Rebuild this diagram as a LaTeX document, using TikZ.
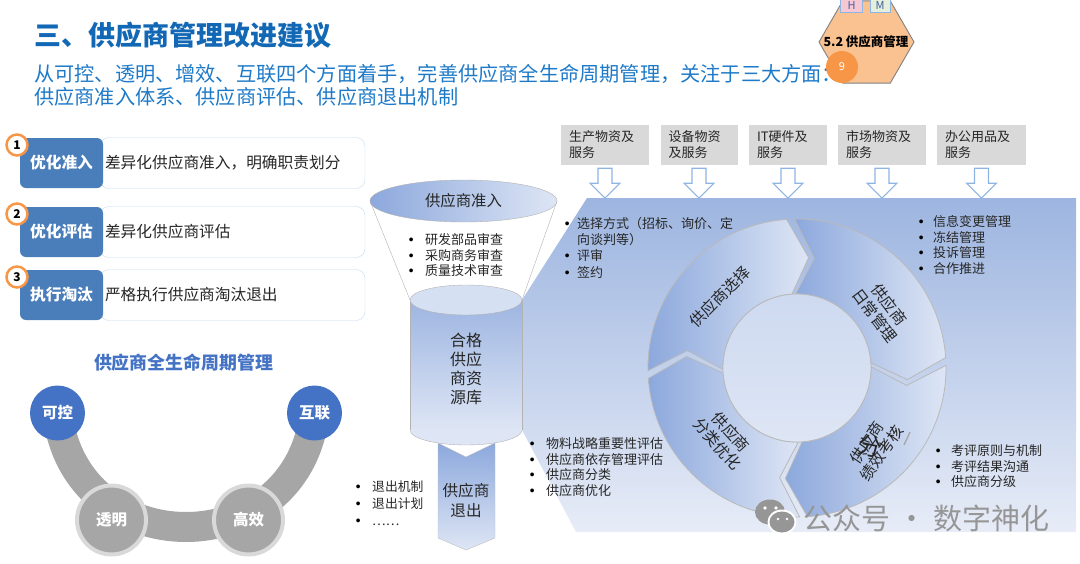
\documentclass[tikz,border=0pt]{standalone}
\usepackage{fontspec}
\setmainfont{Noto Sans CJK SC}
\usepackage{tikz}
\usetikzlibrary{positioning}
\usetikzlibrary{shapes.geometric}
\usetikzlibrary{calc}

\definecolor{titleblue}{RGB}{18,104,180}
\definecolor{subblue}{RGB}{30,122,200}
\definecolor{headblue}{RGB}{74,126,187}
\definecolor{numorange}{RGB}{247,150,70}
\definecolor{edgeblue}{RGB}{198,217,241}
\definecolor{lifeblue}{RGB}{68,114,196}
\definecolor{bandgray}{RGB}{166,166,166}
\definecolor{ringgray}{RGB}{217,217,217}
\definecolor{segdark}{RGB}{140,168,220}
\definecolor{seglight}{RGB}{222,230,245}
\definecolor{paneltop}{RGB}{157,181,224}
\definecolor{panelbot}{RGB}{231,236,247}
\definecolor{catgray}{RGB}{217,217,217}
\definecolor{arrowedge}{RGB}{141,180,226}
\definecolor{hexfill}{RGB}{250,193,145}
\definecolor{hpink}{RGB}{245,200,212}
\definecolor{mgreen}{RGB}{228,239,220}
\definecolor{markblue}{RGB}{70,95,160}
\definecolor{markgray}{RGB}{150,150,150}
\definecolor{txtdark}{RGB}{38,38,38}

\newcommand{\fs}[2]{\fontsize{#1}{#2}\selectfont}
\newcommand{\dotitem}[1]{\makebox[#1][l]{\raisebox{2.6pt}{\color{black}\fs{4.2}{5}●}}}

\tikzset{
  headbox/.style={fill=headblue, rounded corners=6pt, minimum width=83pt, minimum height=50pt,
    text=white, font=\fs{15.7}{18}\bfseries},
  bodybox/.style={draw=edgeblue, fill=white, rounded corners=9pt, minimum width=265pt,
    minimum height=51pt, text width=255pt, align=left, font=\fs{15.7}{18}},
  numcirc/.style={circle, draw=numorange, line width=2.5pt, fill=white, minimum size=21pt,
    text=black, font=\fs{12}{12}\bfseries},
  lifekey/.style={circle, fill=lifeblue, minimum size=55pt, text=white, font=\fs{15.5}{16}\bfseries},
  lifemid/.style={circle, fill=bandgray, draw=ringgray, line width=4pt, minimum size=69pt,
    text=white, font=\fs{15.5}{16}\bfseries},
  catbox/.style={fill=catgray, minimum height=40pt, align=left, font=\fs{13}{16}},
  flowarrow/.style={draw=arrowedge, fill=white, line width=1.1pt},
  segment/.style={left color=segdark, right color=seglight, draw=gray!55, line width=0.8pt},
  seglabel/.style={align=center, font=\fs{15.6}{18}},
  item/.style={anchor=base west, font=\fs{13}{15}},
}

\begin{document}
\begin{tikzpicture}[x=1pt,y=-1pt, every node/.style={inner sep=0pt, text=txtdark}]
\useasboundingbox (0,0) rectangle (1080,563);

% title
\node[anchor=base west, font=\fs{27}{30}\bfseries, text=titleblue] (title) at (34,45) {三、供应商管理改进建议};
\node[anchor=base west, font=\fs{20.2}{23}, text=subblue] (sub1) at (34,81.5)
  {从可控、透明、增效、互联四个方面着手，完善供应商全生命周期管理，关注于三大方面：};
\node[anchor=base west, font=\fs{20.2}{23}, text=subblue] (sub2) at (34,104.5)
  {供应商准入体系、供应商评估、供应商退出机制};

% badge
\node[regular polygon, regular polygon sides=6, minimum size=95pt, fill=hexfill, draw=gray, line width=0.9pt] (badge) at (866.5,42) {};
\node[draw=arrowedge, fill=hpink, minimum width=22pt, minimum height=14pt, text=markblue, font=\fs{11}{11}] (hmark) at (851.5,5) {H};
\node[draw=arrowedge, fill=mgreen, minimum width=20pt, minimum height=14pt, text=markblue, font=\fs{11}{11}] (mmark) at (880,5) {M};
\node[font=\fs{12.5}{13}\bfseries, text=black] (badgetext) at (866,42) {5.2 供应商管理};
\node[circle, fill=numorange, minimum size=32pt, text=white, font=\fs{11}{11}] (badgenum) at (842,67) {9};

% three measures
\foreach \head/\body/\yy [count=\k] in {优化准入/差异化供应商准入，明确职责划分/163, 优化评估/差异化供应商评估/232, 执行淘汰/严格执行供应商淘汰退出/295} {
  \node[bodybox] (body\k) at (232.5,\yy) {\body};
  \node[headbox] (head\k) at (61.5,\yy) {\head};
  \node[numcirc] (num\k) at (17,\yy-18) {\k};
}

% life cycle
\node[font=\fs{17.9}{20}\bfseries, text=lifeblue] (lifetitle) at (183.5,363) {供应商全生命周期管理};
\coordinate (kk) at (57.5,413);
\coordinate (hl) at (314.5,413);
\draw[bandgray, line width=30pt] (kk) .. controls (75,565) and (297,565) .. (hl);
\node[lifekey] (kekong) at (kk) {可控};
\node[lifekey] (hulian) at (hl) {互联};
\node[lifemid] (touming) at (111.5,520) {透明};
\node[lifemid] (gaoxiao) at (248.5,520) {高效};

% panel
\shade[top color=paneltop, bottom color=panelbot] (587,198) -- (1076,198) -- (1076,532) -- (576,532) -- (522,430) -- (522,300) -- cycle;

% categories
\foreach \cx/\w/\txt [count=\k, evaluate=\w as \tw using \w-16] in {605/88/{生产物资及\\服务}, 699/77/{设备物资\\及服务}, 788/78/{IT硬件及\\服务}, 882/88/{市场物资及\\服务}, 981.5/89/{办公用品及\\服务}} {
  \node[catbox, minimum width=\w pt, text width=\tw pt] (cat\k) at (\cx,145) {\txt};
  \draw[flowarrow] ($(cat\k.south)+(-7,3)$) -- ++(0,15) -- ++(-8,0) -- ++(15,15) -- ++(15,-15) -- ++(-8,0) -- ++(0,-15) -- cycle;
}

% funnel
\draw[gray!60, fill=white] (370,201) -- (410,300) -- (522,300) -- (557,201) -- cycle;
\shadedraw[left color=segdark, right color=seglight, draw=gray!60] (463.5,201) ellipse (93.5pt and 21pt);
\node[font=\fs{15.4}{18}] (entry) at (463.5,201) {供应商准入};
\foreach \t/\yy [count=\k] in {研发部品审查/239, 采购商务审查/255, 质量技术审查/270}
  \node[item] (audit\k) at (409,\yy+5) {\dotitem{16pt}\t};

% exit
\shadedraw[top color=segdark, bottom color=seglight, draw=gray!50] (438,443) -- (466,457) -- (495,443) -- (495,538) -- (466,550) -- (438,538) -- cycle;
\node[align=center, font=\fs{15.6}{20}] (exit) at (466,500) {供应商\\退出};
\foreach \t/\yy [count=\k] in {退出机制/486, 退出计划/503, ……/520}
  \node[item, font=\fs{12.8}{15}] (quit\k) at (356,\yy+5) {\dotitem{16pt}\t};

% pool
\draw[gray!60, fill=seglight] (466,430) ellipse (56pt and 15pt);
\shade[top color=segdark!85!white, bottom color=seglight] (410,300) rectangle (522,430);
\draw[gray!60] (410,300) -- (410,430) (522,300) -- (522,430);
\draw[gray!60, fill=seglight!90!segdark] (466,300) ellipse (56pt and 15pt);
\node[align=center, font=\fs{16}{19}] (pool) at (466,369) {合格\\供应\\商资\\源库};

% cycle
\begin{scope}[shift={(797,368)}, yscale=-1]
\foreach \s [evaluate=\s as \e using \s-87, evaluate=\s as \tip using \s-97, evaluate=\s as \notch using \s-10] in {181,91,1,-89}
  \shadedraw[segment] (\s:149) arc[start angle=\s, end angle=\e, radius=149] -- (\tip:111) -- (\e:74)
    arc[start angle=\e, end angle=\s, radius=74] -- (\notch:111) -- cycle;
\shadedraw[top color=seglight!80!segdark, bottom color=seglight, draw=gray!55, line width=0.8pt] (0,0) circle (74);
\end{scope}
\node[seglabel, rotate=45] (pick) at (720,297) {供应商选择};
\node[seglabel, rotate=-53] (daily) at (882,310) {供应商\\日常管理};
\node[seglabel, rotate=-48] (sort) at (724,438) {供应商\\分类优化};
\node[seglabel, rotate=55] (assess) at (874,448) {供应商\\绩效考核};
\node[font=\fs{24}{24}, rotate=-12] (assessx) at (870,446) {分};
\draw[gray!70, line width=1.3pt] (904,445) -- (910,432);

% notes
\foreach \t/\yy [count=\k] in {{\dotitem{12pt}选择方式（招标、询价、定}/223, {\hspace*{12pt}向谈判等）}/239, {\dotitem{12pt}评审}/255, {\dotitem{12pt}签约}/272}
  \node[item] (pickn\k) at (565,\yy+5) {\t};
\foreach \t/\yy [count=\k] in {信息变更管理/221, 冻结管理/237, 投诉管理/252, 合作推进/268}
  \node[item] (dailyn\k) at (919,\yy+5) {\dotitem{14pt}\t};
\foreach \t/\yy [count=\k] in {物料战略重要性评估/443, 供应商依存管理评估/459, 供应商分类/474, 供应商优化/490}
  \node[item] (sortn\k) at (530,\yy+5) {\dotitem{16pt}\t};
\foreach \t/\yy [count=\k] in {考评原则与机制/450, 考评结果沟通/466, 供应商分级/481}
  \node[item] (assessn\k) at (936,\yy+5) {\dotitem{15pt}\t};

% watermark
\fill[markgray] (770,512) ellipse (15pt and 12.5pt);
\fill[white] (782,522) ellipse (14.5pt and 12.5pt);
\fill[markgray] (782,522) ellipse (12.5pt and 10.5pt);
\fill[white] (765,508) circle (1.8pt) (776,508) circle (1.8pt) (778,519) circle (1.4pt) (787,519) circle (1.4pt);
\node[anchor=base west, font=\fs{29}{30}, text=markgray] (mark) at (803,529) {公众号\hspace{7pt}·\hspace{7pt}数字神化};
\end{tikzpicture}
\end{document}
